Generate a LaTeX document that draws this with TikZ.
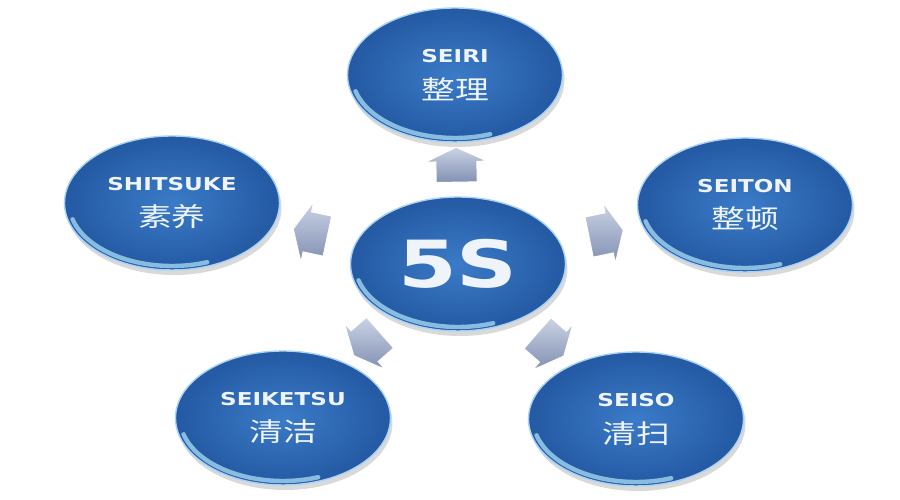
\documentclass[tikz,border=0pt]{standalone}
\usepackage{fontspec}
\usepackage{tikz}
\usetikzlibrary{shapes.geometric,shapes.arrows,shadows}
\newfontfamily\latfont{DejaVu Sans}[FakeStretch=1.3]
\newfontfamily\cjk{Noto Sans CJK SC}[FakeStretch=1.3]
\definecolor{ballmid}{HTML}{3B7BC7}
\definecolor{balledge}{HTML}{2459A3}
\definecolor{ballrim}{HTML}{A9D3F5}
\definecolor{labelwhite}{HTML}{EEF4FA}
\definecolor{arrowtop}{HTML}{CBD3E5}
\definecolor{arrowbot}{HTML}{8190B2}
\tikzset{ball/.style={ellipse, minimum width=4.3cm, minimum height=2.68cm, inner sep=0pt, shading=radial, inner color=ballmid, outer color=balledge, draw=ballrim, line width=0.8pt, drop shadow={opacity=0.3, shadow xshift=0.04cm, shadow yshift=-0.1cm}, text=labelwhite, align=center, font=\cjk\fontsize{14.8}{21}\selectfont, path picture={\draw[white!70!cyan, line width=2.5pt, opacity=0.7, line cap=round] (path picture bounding box.center) ++(195:2.06 and 1.26) arc[start angle=195, end angle=290, x radius=2.06, y radius=1.26];}},pointer/.style={single arrow, minimum height=0.7cm, inner xsep=0pt, inner ysep=0.4cm, single arrow head extend=0.21cm, single arrow tip angle=130, top color=arrowtop, bottom color=arrowbot, draw=white, line width=0.6pt, sloped, allow upside down}}
\newcommand{\lat}[1]{{\latfont\bfseries\fontsize{10.1}{12}\selectfont #1}}

\begin{document}
\begin{tikzpicture}

\useasboundingbox (0,0) rectangle (18,10);

\node(main) at (9.16, 4.72) [ball] {\latfont\bfseries\fontsize{37}{40}\selectfont 5S};
\node(seiri) at (9.1, 8.5) [ball] {\lat{SEIRI}\\整理};
\node(seiton) at (14.9, 5.9) [ball] {\lat{SEITON}\\整顿};
\node(seiso) at (12.72, 1.62) [ball] {\lat{SEISO}\\清扫};
\node(seiketsu) at (5.66, 1.64) [ball] {\lat{SEIKETSU}\\清洁};
\node(shitsuke) at (3.44, 5.94) [ball] {\lat{SHITSUKE}\\素养};

\path (main) -- node(toseiri)[pointer] {} (seiri);
\path (main) -- node(toseiton)[pointer] {} (seiton);
\path (main) -- node(toseiso)[pointer] {} (seiso);
\path (main) -- node(toseiketsu)[pointer] {} (seiketsu);
\path (main) -- node(toshitsuke)[pointer] {} (shitsuke);

\end{tikzpicture}
\end{document}
